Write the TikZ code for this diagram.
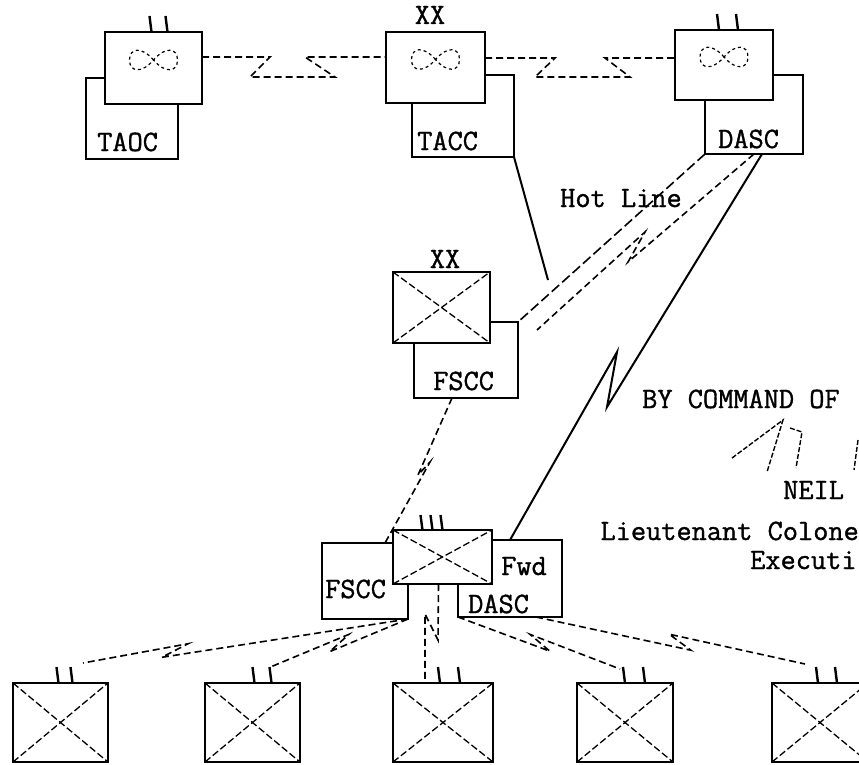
\documentclass[tikz,border=0pt]{standalone}
\usepackage{fontspec}
\setmonofont{Latin Modern Mono}[FakeBold=1.2]
\usepackage{tikz}
\usetikzlibrary{positioning}
\tikzset{
  unitbox/.style={draw, fill=white, line width=2.2pt, inner sep=0pt, outer sep=0pt},
  tagbox/.style={draw, line width=2pt, inner sep=0pt, outer sep=0pt},
  xline/.style={line width=1.3pt, dash pattern=on 7pt off 3pt},
  tally/.style={line width=2.4pt},
  lbl/.style={inner sep=0pt, font={\fontsize{29.5}{34}\selectfont\ttfamily}},
  radionet/.style={line width=1.6pt, dash pattern=on 7pt off 4pt},
  hotline/.style={line width=1.6pt, dash pattern=on 10pt off 4pt},
  wire/.style={line width=2pt},
  wings/.style={line width=1.2pt, dash pattern=on 3pt off 3pt},
  signline/.style={line width=1.4pt, dash pattern=on 5pt off 2pt}
}

\begin{document}
\begin{tikzpicture}[x=1pt, y=-1pt]
\useasboundingbox (0,0) rectangle (859,765);

% top row
\node[tagbox, minimum width=92pt, minimum height=81pt] (taocl) at (132,118.5) {};
\node[unitbox, minimum width=97pt, minimum height=72pt] (taoc) at (153.5,68) {};
\node[tagbox, minimum width=102pt, minimum height=82pt] (taccl) at (463,116) {};
\node[unitbox, minimum width=99pt, minimum height=71pt] (tacc) at (435.5,67.5) {};
\node[tagbox, minimum width=98pt, minimum height=79pt] (dascl) at (754,114.5) {};
\node[unitbox, minimum width=98pt, minimum height=70pt] (dasc) at (724,65) {};

% division
\node[tagbox, minimum width=104pt, minimum height=76pt] (divl) at (466,360) {};
\node[unitbox, minimum width=97pt, minimum height=71pt] (div) at (441.5,307.5) {};

% brigade
\node[tagbox, minimum width=86pt, minimum height=76pt] (bdel) at (365,581) {};
\node[tagbox, minimum width=104pt, minimum height=77pt] (fwdl) at (510,578.5) {};
\node[unitbox, minimum width=99pt, minimum height=54pt] (bde) at (442.5,557) {};

% battalions
\node[unitbox, minimum width=95pt, minimum height=79pt] (u1) at (60.5,722.5) {};
\node[unitbox, minimum width=95pt, minimum height=79pt] (u2) at (252.5,722.5) {};
\node[unitbox, minimum width=100pt, minimum height=79pt] (u3) at (443,722.5) {};
\node[unitbox, minimum width=96pt, minimum height=79pt] (u4) at (625,722.5) {};
\node[unitbox, minimum width=96pt, minimum height=79pt] (u5) at (820,722.5) {};

\foreach \n in {div,bde,u1,u2,u3,u4,u5}{
  \draw[xline] (\n.north west) -- (\n.south east);
  \draw[xline] (\n.south west) -- (\n.north east);
}
\foreach \n in {taoc,tacc,dasc}
  \draw[wings, shift={(\n.center)}] (0,-8) .. controls (-12,-22) and (-24,-20) .. (-24,-8)
    .. controls (-24,4) and (-12,6) .. (0,-8) .. controls (12,-22) and (24,-20) .. (24,-8)
    .. controls (24,4) and (12,6) .. (0,-8);

% echelon marks
\foreach \n/\a/\b in {taoc/-2/14, dasc/-5/14, u1/-2/12, u2/2/19, u3/-3/17, u4/0/20, u5/-2/17}
  \foreach \dx in {\a,\b}
    \draw[tally] ([xshift=\dx]\n.north) -- ++(-2,-16);
\foreach \dx in {-20,-10,0}
  \draw[tally] ([xshift=\dx]bde.north) -- ++(-2,-15);
\node[lbl, anchor=base] (taccxx) at (430,24) {XX};
\node[lbl, anchor=base] (divxx) at (445,268) {XX};

% labels
\node[lbl, anchor=base west] (taoct) at (97,151) {TAOC};
\node[lbl, anchor=base west] (tacct) at (417,150) {TACC};
\node[lbl, anchor=base west] (dasct) at (718,148) {DASC};
\node[lbl, anchor=base west] (hott) at (560,207) {Hot Line};
\node[lbl, anchor=base west] (divt) at (433,390) {FSCC};
\node[lbl, anchor=base west] (bdet) at (325,598) {FSCC};
\node[lbl, anchor=base west] (fwdt) at (501,575) {Fwd};
\node[lbl, anchor=base west] (fdasct) at (468,613) {DASC};

% links
\coordinate (tlend) at (548,280);
\coordinate (hlend) at (537,330);
\draw[radionet] ([yshift=11]taoc.east) -- (270,57) -- (250,77) -- (335,77) -- (305,57) -- ([yshift=10.5]tacc.west);
\draw[radionet] ([yshift=9.5]tacc.east) -- (555,58) -- (535,77) -- (630,77) -- (605,58) -- ([yshift=7]dasc.west);
\draw[wire] (taccl.south east) -- (tlend);
\draw[hotline] (dascl.south west) -- (divl.north east);
\draw[radionet] (dascl.south) -- (628,262) -- (645,232) -- (hlend);
\draw[wire] ([xshift=8]dascl.south) -- (607,407) -- (617,352) -- (fwdl.north);
\draw[radionet] ([xshift=-14]divl.south) -- (418,475) -- (430,462) -- ([xshift=20]bdel.north);

\draw[radionet] (bdel.south east) -- (161.8,657.3) -- (188.2,643.7) -- ([shift={(22.5,-20)}]u1.north);
\draw[radionet] (bdel.south east) -- (329.6,651.7) -- (349,634.3) -- ([shift={(18,-16)}]u2.north);
\draw[radionet] ([xshift=-4]bde.south) -- (438,640) -- (425,614) -- ([xshift=-18]u3.north);
\draw[radionet] (fwdl.south west) -- (549.9,651.2) -- (530.1,634.4) -- ([shift={(-5,-14)}]u4.north);
\draw[radionet] ([xshift=26]fwdl.south) -- (690.8,650.2) -- (669.2,634.2) -- ([shift={(-15,-19)}]u5.north);

% signature block
\node[lbl, anchor=base west] (bycmd) at (642,408) {BY COMMAND OF};
\draw[signline] (732,458) -- (783,420) -- (767,472);
\draw[signline] (790,428) -- (802,432) -- (796,468);
\draw[signline] (858,440) -- (854,470);
\node[lbl, anchor=base west] (neil) at (783,499) {NEIL};
\node[lbl, anchor=base east] (ltcol) at (859,540) {Lieutenant Colone};
\node[lbl, anchor=base west] (exec) at (750,569) {Executi};
\end{tikzpicture}
\end{document}
